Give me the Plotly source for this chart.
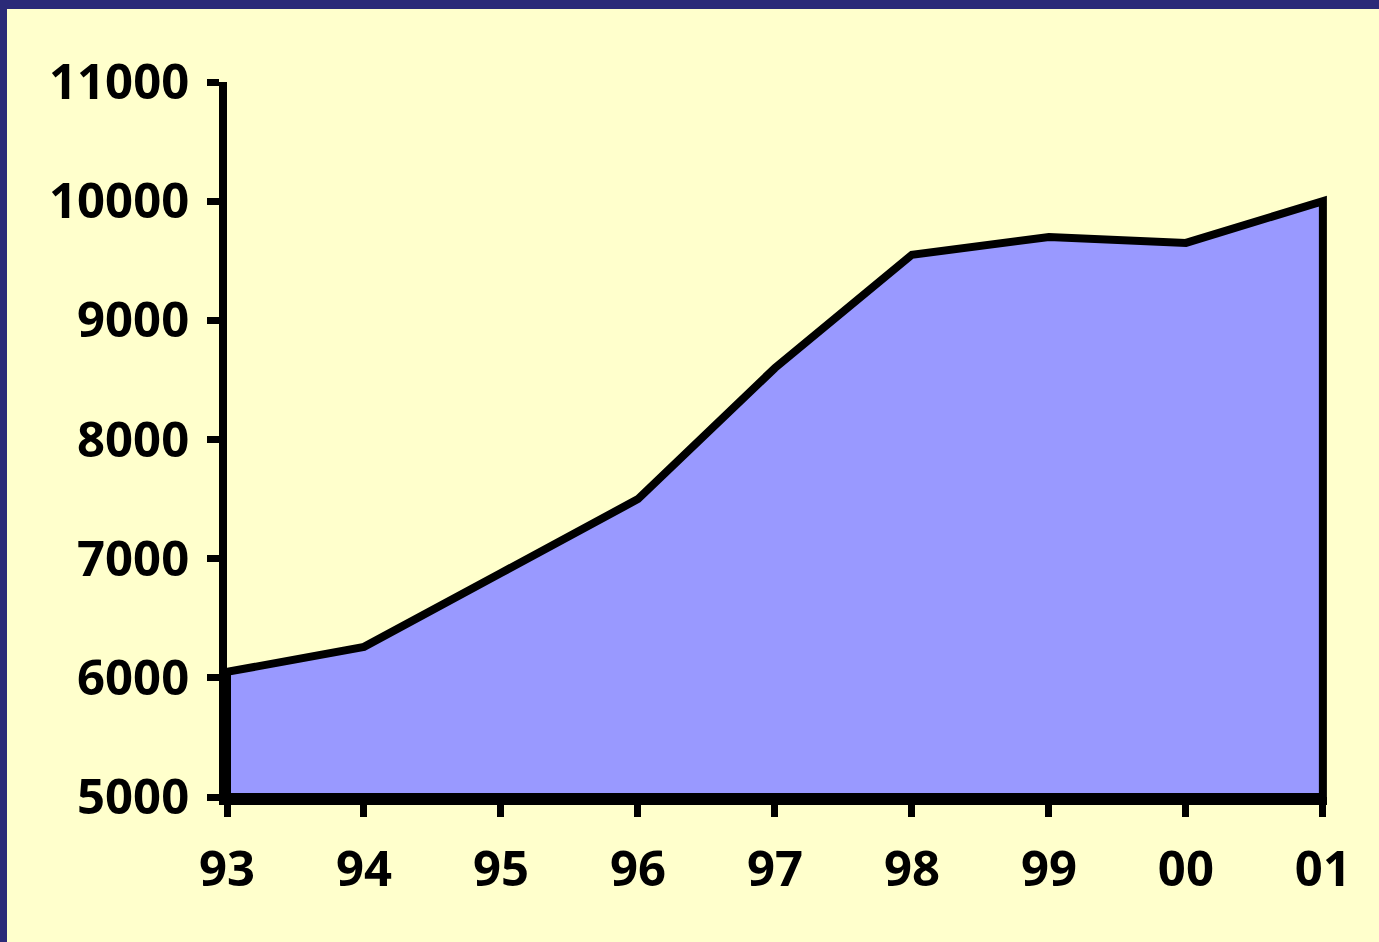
import plotly.graph_objects as go

years = ["93", "94", "95", "96", "97", "98", "99", "00", "01"]
values = [6050, 6260, 6880, 7500, 8600, 9550, 9700, 9650, 10000]
y_ticks = [5000, 6000, 7000, 8000, 9000, 10000, 11000]
y_min, y_max = 5000, 11000

W, H = 1379, 942
L, R, T, B = 227, 52, 82, 145
pw, ph = W - L - R, H - T - B
x_pad = 0.03

xs = list(range(len(years)))
poly_x = xs + [xs[-1], xs[0], xs[0]]
poly_y = values + [y_min, y_min, values[0]]

fig = go.Figure()
fig.add_trace(go.Scatter(
    x=poly_x, y=poly_y, mode="lines", fill="toself",
    fillcolor="#9999FF", line=dict(color="black", width=8, shape="linear"),
    hoverinfo="skip", showlegend=False,
))

def px_x(p):
    return (p - L) / pw

def px_y(p):
    return (H - B - p) / ph

navy = "#2B2A78"
fig.add_shape(type="rect", xref="paper", yref="paper",
              x0=px_x(0), x1=px_x(W), y0=px_y(9), y1=px_y(0),
              fillcolor=navy, line=dict(width=0), layer="above")
fig.add_shape(type="rect", xref="paper", yref="paper",
              x0=px_x(0), x1=px_x(7), y0=px_y(H), y1=px_y(0),
              fillcolor=navy, line=dict(width=0), layer="above")

tickfont = dict(family="Noto Sans", size=49, color="black", weight="bold")

fig.update_layout(
    width=W, height=H,
    margin=dict(l=L, r=R, t=T, b=B, pad=0),
    paper_bgcolor="#FFFFCC", plot_bgcolor="#FFFFCC",
    font=dict(family="Noto Sans", color="black"),
    xaxis=dict(
        range=[0, len(years) - 1 + x_pad], tickmode="array", tickvals=xs, ticktext=years,
        showgrid=False, zeroline=False, showline=True, linecolor="black", linewidth=8,
        ticks="outside", ticklen=12, tickwidth=7, tickcolor="black",
        tickfont=tickfont, ticklabelstandoff=10,
    ),
    yaxis=dict(
        range=[y_min, y_max], tickmode="array", tickvals=y_ticks,
        ticktext=[str(v) for v in y_ticks],
        showgrid=False, zeroline=False, showline=True, linecolor="black", linewidth=8,
        ticks="outside", ticklen=12, tickwidth=7, tickcolor="black",
        tickfont=tickfont, ticklabelstandoff=8,
    ),
)

fig.write_html(
    "out.html",
    config={"displayModeBar": False},
    post_script="document.body.style.margin='0';document.body.style.overflow='hidden';",
)
